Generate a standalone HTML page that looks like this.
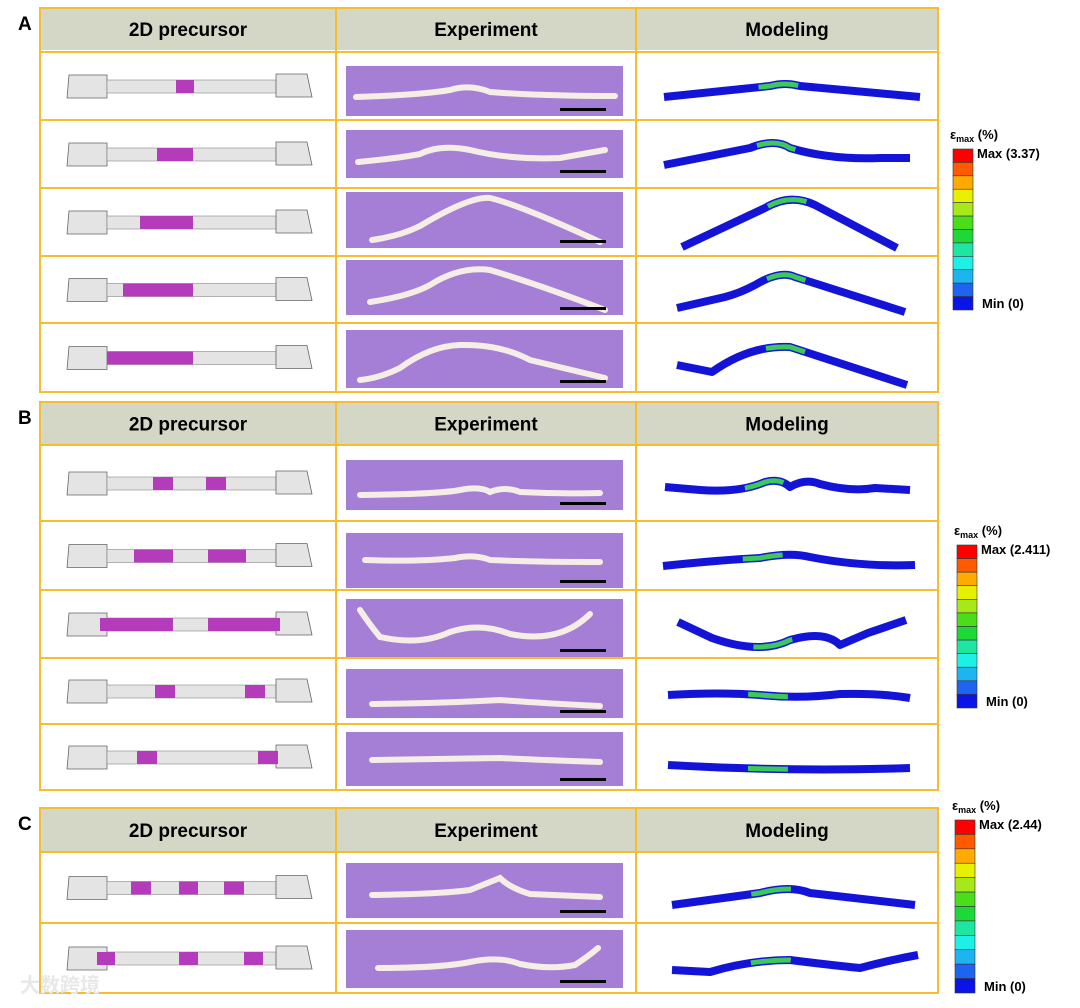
<!DOCTYPE html>
<html><head><meta charset="utf-8">
<style>
body{margin:0;background:#fff;width:1080px;height:1003px;overflow:hidden;font-family:"Liberation Sans",sans-serif}
svg text{font-family:"Liberation Sans","Noto Sans CJK SC",sans-serif}
</style></head>
<body>
<svg id="fig" width="1080" height="1003" xmlns="http://www.w3.org/2000/svg"></svg>
<script>
const cbColors=["#ff0000","#ff5a00","#ffaa00","#e6f000","#a6e81a","#4ade1a","#1ed83a","#1ee6a0","#1ef0e6","#1eb4f0","#1e64f0","#0a14e6"];
const panels=[
 {label:"A",top:8,hdr:50,rows:[52,120,188,256,323,392],
  cb:{x:953,y0:149,y1:310,max:"Max (3.37)"}},
 {label:"B",top:402,hdr:445,rows:[445,521,590,658,724,790],
  cb:{x:957,y0:545,y1:708,max:"Max (2.411)"}},
 {label:"C",top:808,hdr:852,rows:[852,923,993],
  cb:{x:955,y0:820,y1:993,max:"Max (2.44)"}}
];
const segs=[[[176,194]],[[157,193]],[[140,193]],[[123,193]],[[107,193]],
 [[153,173],[206,226]],[[134,173],[208,246]],[[100,173],[208,280]],[[155,175],[245,265]],[[137,157],[258,278]],
 [[131,151],[179,198],[224,244]],[[97,115],[179,198],[244,263]]];
const model=["M664,97 L770,86 Q785,82 800,86 L920,97",
 "M664,165 L750,148 Q775,138 790,148 Q830,160 880,158 L910,158",
 "M682,247 L765,208 Q790,193 815,205 L897,248",
 "M677,308 L725,297 Q740,293 755,285 Q780,270 795,277 L905,312",
 "M677,365 L712,372 Q750,345 790,347 L907,385",
 "M665,487 L700,490 Q740,493 765,482 Q780,478 790,487 Q805,478 820,484 Q850,492 875,488 L910,490",
 "M663,566 Q720,560 760,558 Q790,552 810,557 Q860,567 915,565",
 "M678,622 L712,638 Q760,655 790,640 Q825,630 840,645 L868,633 L906,620",
 "M668,695 Q720,692 760,695 Q800,699 840,694 Q880,693 910,698",
 "M668,765 Q790,772 910,768",
 "M672,905 L760,893 Q790,885 810,893 L915,905",
 "M672,970 L710,972 Q750,960 790,960 Q830,965 860,968 Q890,960 918,955"];
const photo=[[66,116,"M356,97 Q420,95 450,90 Q470,84 490,92 Q540,96 615,96"],
 [130,178,"M358,162 Q400,158 420,154 Q440,144 470,150 Q510,160 560,158 L605,150"],
 [192,248,"M372,240 Q400,236 420,226 Q470,196 490,198 Q520,205 600,242"],
 [260,315,"M370,302 Q410,296 430,285 Q460,266 490,270 Q540,285 605,310"],
 [330,388,"M360,380 Q380,378 400,368 Q430,346 460,345 Q500,344 530,360 L605,378"],
 [460,510,"M360,495 Q440,494 460,490 Q480,486 490,492 Q505,486 520,492 Q560,494 600,493"],
 [533,588,"M365,560 Q420,562 455,558 Q475,554 490,560 Q530,562 600,562"],
 [599,657,"M360,610 Q370,625 380,637 Q420,646 450,632 Q480,622 510,634 Q560,644 590,614"],
 [669,718,"M372,704 Q450,703 500,700 Q540,703 600,706"],
 [732,786,"M372,760 Q450,759 500,758 Q540,760 600,762"],
 [863,918,"M372,895 Q440,894 470,890 Q490,882 500,878 Q510,888 530,894 L600,897"],
 [930,988,"M378,968 Q440,968 470,962 Q500,956 520,964 Q550,970 575,965 Q590,955 598,948"]];

const S="http://www.w3.org/2000/svg";
const svg=document.getElementById('fig');
function el(tag,attrs,parent){const e=document.createElementNS(S,tag);for(const k in attrs)e.setAttribute(k,attrs[k]);(parent||svg).appendChild(e);return e;}
const cols=[40,336,636,938];
const heads=["2D precursor","Experiment","Modeling"];
let ri=0;
panels.forEach(p=>{
 const g=el('g',{});
 
 
 const L=el('text',{x:18,y:p.top+22,'font-size':19,'font-weight':'bold'},g);L.textContent=p.label;
 
 
 const h=el('rect',{x:40,y:p.top,width:898,height:p.hdr-p.top,fill:'#d4d7c6'},g);
 
 
 heads.forEach((t,i)=>{const tx=el('text',{x:(cols[i]+cols[i+1])/2,y:(p.top+p.hdr)/2+7,'font-size':19,'font-weight':'bold','text-anchor':'middle'},g);tx.textContent=t;
  
  });
 for(let r=0;r<p.rows.length-1;r++){
  const y0=p.rows[r],y1=p.rows[r+1],cy=(y0+y1)/2;
  const k=ri++;
  // precursor
  const pg=el('g',{},g);
  
  
  el('polygon',{points:`69,${cy-11} 107,${cy-11} 107,${cy+12} 67,${cy+12}`,fill:'#e4e4e4',stroke:'#666','stroke-width':0.8},pg);
  el('rect',{x:107,y:cy-6,width:169,height:13,fill:'#e4e4e4',stroke:'#888','stroke-width':0.6},pg);
  el('polygon',{points:`276,${cy-12} 307,${cy-12} 312,${cy+11} 276,${cy+11}`,fill:'#e4e4e4',stroke:'#666','stroke-width':0.8},pg);
  segs[k].forEach(s=>el('rect',{x:s[0],y:cy-6,width:s[1]-s[0],height:13,fill:'#b43cbb'},pg));
  // photo
  const ph=photo[k];
  const eg=el('g',{},g);
  
  
  el('rect',{x:346,y:ph[0],width:277,height:ph[1]-ph[0],fill:'#a57fd6'},eg);
  el('path',{d:ph[2],fill:'none',stroke:'#f4eee6','stroke-width':6,'stroke-linecap':'round'},eg);
  el('rect',{x:560,y:ph[1]-8,width:46,height:3,fill:'#000'},eg);
  // model
  const mp=el('path',{d:model[k],fill:'none',stroke:'#1414d8','stroke-width':8,'stroke-linejoin':'round'},g);
  
  
  el('path',{d:model[k],fill:'none',stroke:'#3cc85a','stroke-width':5,'stroke-dasharray':'0 '+(k<5?95:80)+' 40 1000','stroke-dashoffset':0},g);
 }
 // grid lines
 const yb=p.rows[p.rows.length-1];
 const stroke={stroke:'#f6bd2e','stroke-width':2,fill:'none'};
 el('rect',Object.assign({x:40,y:p.top,width:898,height:yb-p.top},stroke),g);
 [336,636].forEach(x=>el('line',Object.assign({x1:x,x2:x,y1:p.top,y2:yb},stroke),g));
 p.rows.slice(0,-1).forEach(y=>el('line',Object.assign({x1:40,x2:938,y1:y,y2:y},stroke),g));
 // colorbar
 const c=p.cb,cg=el('g',{},g);
 
 
 const sh=(c.y1-c.y0)/cbColors.length;
 cbColors.forEach((col,i)=>el('rect',{x:c.x,y:c.y0+i*sh,width:20,height:sh,fill:col,stroke:'#333','stroke-width':0.6},cg));
 const t=el('text',{x:c.x-3,y:c.y0-10,'font-size':13,'font-weight':'bold'},cg);
 t.innerHTML='ε<tspan font-size="9" dy="3">max</tspan><tspan dy="-3"> (%)</tspan>';
 const mx=el('text',{x:c.x+24,y:c.y0+9,'font-size':13,'font-weight':'bold'},cg);mx.textContent=c.max;
 const mn=el('text',{x:c.x+29,y:c.y1-2,'font-size':13,'font-weight':'bold'},cg);mn.textContent='Min (0)';
});
const wm=el('text',{x:20,y:992,'font-size':20,fill:'#e8e8e8','font-weight':'bold'});
wm.textContent='大数跨境';


</script>
</body></html>
